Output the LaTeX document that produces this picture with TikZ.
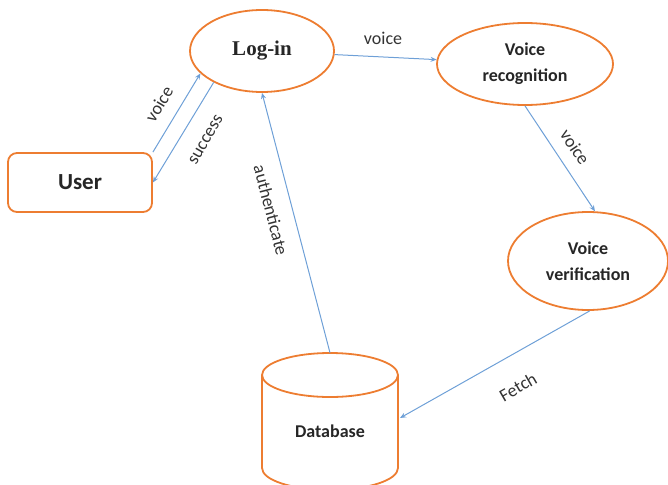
\documentclass[tikz,border=0pt]{standalone}
\usepackage{fontspec}
\setmainfont{Carlito}
\newfontfamily\serifbold{Liberation Serif}
\usetikzlibrary{shapes.geometric,arrows.meta,calc}
\definecolor{borange}{RGB}{237,125,49}
\definecolor{ablue}{RGB}{110,160,215}
\tikzset{
  ellnode/.style={ellipse, draw=borange, line width=1.8pt, inner sep=0pt, align=center, font=\fontsize{18}{26}\selectfont\bfseries, text=black!85},
  conn/.style={draw=ablue, line width=1pt, -{Stealth[length=6pt,width=5pt]}},
  elabel/.style={font=\fontsize{18}{20}\selectfont, text=black!80, inner sep=0pt},
}
\begin{document}
\begin{tikzpicture}[x=1pt,y=1pt]
\useasboundingbox (0,0) rectangle (668,-484);
\clip (0,0) rectangle (668,-484);
\node[ellnode, minimum width=144, minimum height=82, font=\fontsize{21}{23}\selectfont\serifbold\bfseries] (login) at (262,-51) {Log-in};
\node[ellnode, minimum width=176, minimum height=82] (vr) at (525,-64) {Voice\\recognition};
\node[ellnode, minimum width=160, minimum height=98] (vv) at (588,-261) {Voice\\verification};
\node[draw=borange, line width=1.8pt, rounded corners=9pt, minimum width=144, minimum height=59, inner sep=0pt, font=\fontsize{23}{25}\selectfont\bfseries, text=black!85] (user) at (80,-182.5) {User};
% database cylinder
\node[minimum width=136, minimum height=137, inner sep=0pt] (db) at (330,-421.5) {};
\node[font=\fontsize{18}{20}\selectfont\bfseries, text=black!85] (dbtext) at (330,-431) {Database};
\draw[borange, line width=1.8pt] (262,-375) -- (262,-468) arc[start angle=180, end angle=360, x radius=68, y radius=22] -- (398,-375);
\draw[borange, line width=1.8pt] (330,-375) ellipse[x radius=68, y radius=22];
% connectors
\draw[conn] (login) -- (vr);
\draw[conn] (vr.south) -- (vv.82);
\draw[conn] (vv.-88) -- (400,-418) coordinate (dbin);
\draw[conn] (db.north) -- (login.south);
\draw[conn] (user.north east) -- (login.200);
\draw[conn] (login.213) -- (user.east);
% labels
\node[elabel] (l1) at (383,-38) {voice};
\node[elabel, rotate=-56] (l2) at (575,-147) {voice};
\node[elabel, rotate=30] (l3) at (518,-387) {Fetch};
\node[elabel, rotate=-75.5] (l4) at (271,-210) {authenticate};
\node[elabel, rotate=59] (l5) at (159,-104) {voice};
\node[elabel, rotate=60] (l6) at (206,-140) {success};
\end{tikzpicture}
\end{document}
